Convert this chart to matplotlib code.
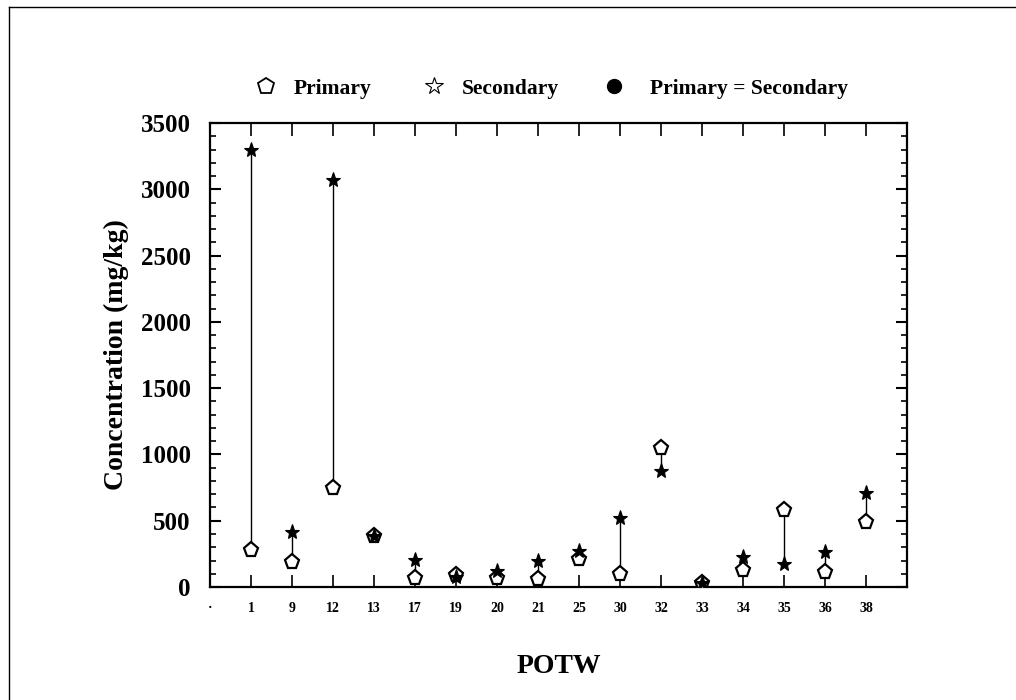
import matplotlib
matplotlib.use('Agg')
import matplotlib.pyplot as plt
from matplotlib.lines import Line2D
from matplotlib.legend_handler import HandlerTuple

plt.rcParams['font.family'] = ['Liberation Serif', 'DejaVu Serif']
plt.rcParams['font.weight'] = 'bold'

# POTW ids and concentrations (mg/kg)
potw = ['1', '9', '12', '13', '17', '19', '20', '21', '25', '30', '32', '33', '34', '35', '36', '38']
primary = [280, 185, 750, 385, 65, 90, 65, 58, 210, 95, 1050, 32, 125, 578, 112, 488]
secondary = [3300, 418, 3070, 385, 205, 72, 122, 196, 272, 518, 878, 32, 228, 172, 265, 712]

yticks = [0, 500, 1000, 1500, 2000, 2500, 3000, 3500]


def draw():
    fig = plt.figure(figsize=(10.16, 7), dpi=100)
    ax = fig.add_axes([0.2067, 0.1614, 0.686, 0.6629])

    xs = list(range(1, len(potw) + 1))

    # vertical connector between primary and secondary
    for x, p, s in zip(xs, primary, secondary):
        ax.plot([x, x], [p, s], color='black', lw=1.0, zorder=1)

    ax.plot(xs, primary, linestyle='none', marker='p', markersize=11,
            markerfacecolor='white', markeredgecolor='black', markeredgewidth=1.6, zorder=3)
    ax.plot(xs, secondary, linestyle='none', marker='*', markersize=11,
            color='black', markeredgewidth=0.8, zorder=4)

    ax.set_xlim(0, 17)
    ax.set_ylim(0, 3500)

    ax.set_xticks([0] + xs)
    ax.set_xticklabels(['·'] + potw, fontsize=10, fontweight='bold')
    ax.set_yticks(yticks)
    ax.set_yticklabels([str(v) for v in yticks], fontsize=18, fontweight='bold')
    ax.set_yticks(range(0, 3501, 100), minor=True)

    ax.tick_params(axis='x', which='major', direction='in', length=9, width=1.2,
                   top=True, pad=11)
    ax.tick_params(axis='y', which='major', direction='in', length=8, width=1.5,
                   right=True, pad=14)
    ax.tick_params(axis='y', which='minor', direction='in', length=4, width=1.2,
                   right=True)
    for sp in ax.spines.values():
        sp.set_linewidth(1.6)

    ax.set_ylabel('Concentration (mg/kg)', fontsize=20, fontweight='bold', labelpad=8)
    ax.set_xlabel('POTW', fontsize=20, fontweight='bold', labelpad=28)

    # legend above the plot
    h_prim = Line2D([], [], linestyle='none', marker='p', markersize=12,
                    markerfacecolor='white', markeredgecolor='black', markeredgewidth=1.3)
    h_sec = Line2D([], [], linestyle='none', marker='*', markersize=13,
                   markerfacecolor='white', markeredgecolor='black', markeredgewidth=0.8)
    h_eq1 = Line2D([], [], linestyle='none', marker='o', markersize=10,
                   markerfacecolor='black', markeredgecolor='black')
    h_eq2 = Line2D([], [], linestyle='none', marker='|', markersize=10,
                   markeredgecolor='white', markeredgewidth=1.5)
    ax.legend([h_prim, h_sec, (h_eq1, h_eq2)],
              ['Primary', 'Secondary', 'Primary = Secondary'],
              handler_map={tuple: HandlerTuple(ndivide=None)},
              loc='lower center', bbox_to_anchor=(0.49, 1.011), ncol=3,
              frameon=False, columnspacing=2.4, handlelength=1.0, handletextpad=0.8,
              prop={'weight': 'bold', 'size': 15.5})

    # outer frame (top and left edges)
    fig.add_artist(Line2D([0.009, 1.0], [0.99, 0.99], color='black', lw=1.0))
    fig.add_artist(Line2D([0.009, 0.009], [0.0, 0.99], color='black', lw=1.0))

    plt.savefig('out.png', dpi=100)


if __name__ == '__main__':
    draw()
